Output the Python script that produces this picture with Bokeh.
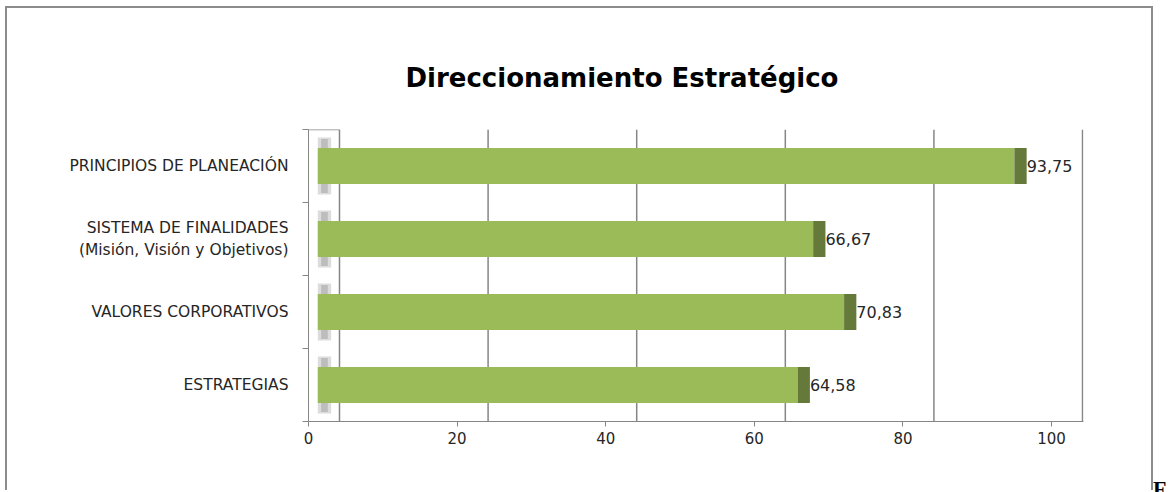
from bokeh.plotting import figure
from bokeh.models import (Range1d, FixedTicker, LinearAxis, Title, Div, InlineStyleSheet,
                          ColumnDataSource)
from bokeh.layouts import row
from bokeh.embed import file_html
from bokeh.resources import INLINE
from bokeh.core.properties import value

# ---- data ----
title_text = "Direccionamiento Estratégico"
categories = ["ESTRATEGIAS", "VALORES CORPORATIVOS",
              "SISTEMA DE FINALIDADES\n(Misión, Visión y Objetivos)",
              "PRINCIPIOS DE PLANEACIÓN"]
values = [64.58, 70.83, 66.67, 93.75]
x_ticks = [0, 20, 40, 60, 80, 100]

# ---- style / geometry ----
DEPTH = 4.17       # 3D wall depth offset in data units
FACE0 = 1.25       # start of bar front face
CAP = 1.65         # width of dark end cap
LIGHT = "#9BBB59"
DARK = "#64793A"
GRID = "#868686"
LABEL_FONT = "DejaVu Sans"

n = len(categories)
ys = [i + 0.5 for i in range(n)]

p = figure(width=1148, height=484, output_backend="svg", toolbar_location=None,
           x_range=Range1d(0, 104.3), y_range=Range1d(0, n),
           min_border_left=301, min_border_right=72, min_border_top=121,
           min_border_bottom=71, x_axis_location=None, y_axis_location=None)
p.outline_line_color = None
p.xgrid.visible = False
p.ygrid.visible = False
p.background_fill_color = "white"
p.border_fill_color = "white"
p.margin = (6, 0, 0, 5)
p.stylesheets = [InlineStyleSheet(css=":host { border-top: 2px solid #8c8c8c; border-left: 2px solid #8c8c8c; border-right: 2px solid #8c8c8c; }")]

# back-wall gridlines
gx = [t + DEPTH for t in x_ticks]
p.segment(x0=gx, y0=[0] * len(gx), x1=gx, y1=[n] * len(gx), line_color=GRID, line_width=1.5)
# top of side wall
p.segment(x0=[0], y0=[n], x1=[DEPTH], y1=[n], line_color=GRID, line_width=1.5)

# grey stubs at the base of bars
p.hbar(y=ys, left=FACE0, right=FACE0 + 1.8, height=0.78, fill_color="#DCDCDC", line_color=None)
p.hbar(y=ys, left=FACE0 + 0.45, right=FACE0 + 1.35, height=0.74, fill_color="#BDBDBD", line_color=None)

# bars
src = ColumnDataSource(dict(
    y=ys,
    left=[FACE0] * n,
    right=[v + FACE0 for v in values],
    capr=[v + FACE0 + CAP for v in values],
    lab=[f"{v:.2f}".replace(".", ",") for v in values],
))
p.hbar(y="y", left="left", right="right", height=0.49, source=src,
       fill_color=LIGHT, line_color=None)
p.hbar(y="y", left="right", right="capr", height=0.49, source=src,
       fill_color=DARK, line_color=None)
p.text(x="capr", y="y", text="lab", source=src, x_offset=0,
       text_align="left", text_baseline="middle", text_font=value(LABEL_FONT),
       text_font_size="16px", text_color="#262626")

# axes
xa = LinearAxis(ticker=FixedTicker(ticks=x_ticks))
xa.axis_line_color = GRID
xa.major_tick_line_color = GRID
xa.major_tick_in = 0
xa.major_tick_out = 5
xa.minor_tick_line_color = None
xa.major_label_standoff = 5
xa.major_label_text_font = LABEL_FONT
xa.major_label_text_font_size = "15px"
xa.major_label_text_color = "#262626"
p.add_layout(xa, "below")

ya = LinearAxis(ticker=FixedTicker(ticks=ys, minor_ticks=list(range(n + 1))))
ya.axis_line_color = GRID
ya.major_tick_line_color = None
ya.major_tick_in = 0
ya.major_tick_out = 0
ya.minor_tick_line_color = GRID
ya.minor_tick_in = 0
ya.minor_tick_out = 6
ya.major_label_overrides = {y: c for y, c in zip(ys, categories)}
ya.major_label_standoff = 14
ya.major_label_text_font = LABEL_FONT
ya.major_label_text_font_size = "15.5px"
ya.major_label_text_color = "#262626"
p.add_layout(ya, "left")

title = Title(text=title_text, align="left", offset=97, standoff=74,
              text_font="DejaVu Sans", text_font_style="bold", text_font_size="26px",
              text_color="black")
p.add_layout(title, "above")

f_div = Div(text="F", styles={"font-family": "Liberation Serif", "font-weight": "bold",
                              "font-size": "22px", "line-height": "22px", "color": "black"},
            margin=(478, 0, 0, 0))

layout = row(p, f_div)
open("out.html", "w").write(file_html(layout, INLINE))
